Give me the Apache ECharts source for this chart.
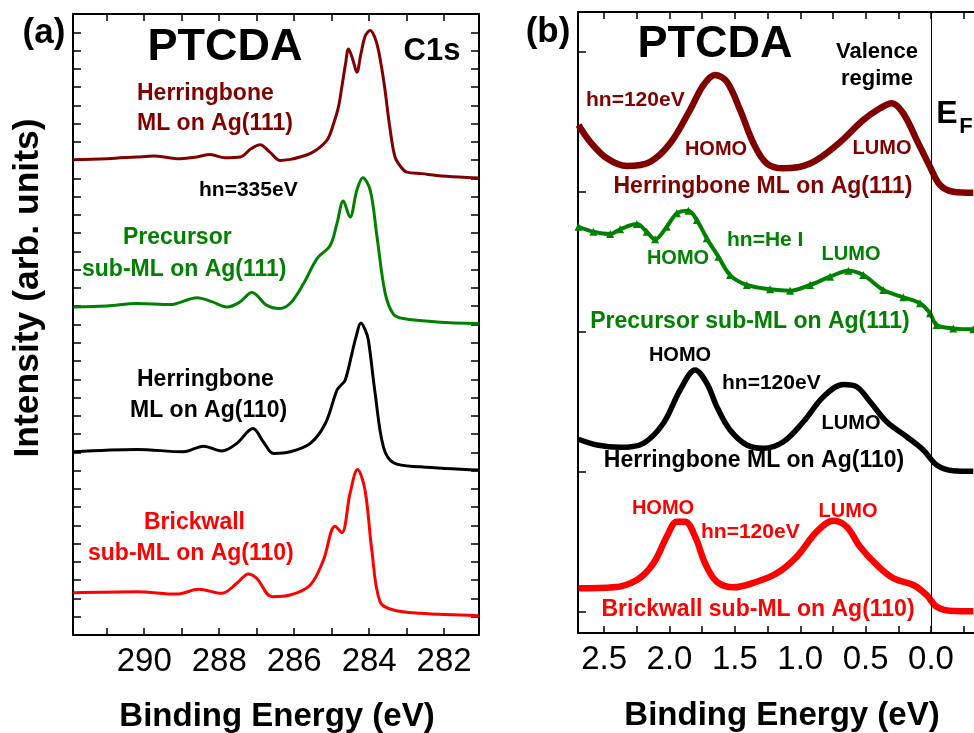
<!DOCTYPE html>
<html><head><meta charset="utf-8">
<script src="https://cdn.jsdelivr.net/npm/echarts@6/dist/echarts.min.js"></script>
<style>html,body{margin:0;padding:0;background:#fff;}#c{width:974px;height:733px;}</style>
</head><body><div id="c"></div>
<script>
// ---------- Panel (a): C1s core level (binding energy, eV / intensity arb. units) ----------
const aHB111_E = [291.9, 291.0, 290.2, 289.75, 289.3, 289.04, 288.6, 288.24, 287.85, 287.44, 287.15, 286.91, 286.65, 286.37, 286.1, 285.84, 285.55, 285.31, 285.1, 284.95, 284.82, 284.73, 284.63, 284.55, 284.43, 284.33, 284.22, 284.1, 283.97, 283.85, 283.75, 283.6, 283.45, 283.31, 283.15, 283.0, 282.6, 282.2, 281.6, 281.08];
const aHB111_Y = [26.02, 26.08, 26.17, 26.22, 26.12, 26.08, 26.17, 26.31, 26.13, 26.17, 26.62, 26.84, 26.44, 25.98, 26.04, 26.17, 26.38, 26.71, 27.17, 27.99, 28.90, 29.99, 31.27, 32.09, 31.46, 30.81, 31.82, 32.82, 33.10, 32.73, 32.0, 30.18, 27.81, 26.17, 25.62, 25.34, 25.26, 25.16, 25.07, 25.02];

const aPre111_E = [291.89, 291.0, 290.19, 289.31, 288.59, 288.2, 287.79, 287.45, 287.13, 286.73, 286.42, 286.11, 285.75, 285.39, 285.04, 284.86, 284.69, 284.51, 284.33, 284.17, 283.97, 283.79, 283.57, 283.35, 283.09, 282.19, 281.08];
const aPre111_Y = [17.96, 18.01, 18.15, 18.09, 18.47, 18.25, 17.96, 18.23, 18.75, 18.05, 17.87, 18.15, 19.24, 20.61, 21.33, 22.52, 23.76, 22.88, 24.34, 25.04, 24.34, 21.79, 18.69, 17.56, 17.33, 17.14, 17.05];

const aHB110_E = [291.89, 290.19, 288.95, 288.42, 287.93, 287.53, 287.10, 286.82, 286.55, 286.11, 285.57, 285.17, 284.86, 284.75, 284.64, 284.46, 284.35, 284.22, 284.1, 284.02, 283.84, 283.62, 283.35, 282.64, 281.08];
const aHB110_Y = [10.03, 10.16, 10.03, 10.34, 10.08, 10.49, 11.31, 10.57, 9.94, 10.03, 10.49, 11.58, 13.40, 13.68, 13.95, 15.41, 16.32, 17.08, 16.68, 16.14, 13.22, 10.30, 9.43, 9.21, 9.03];

const aBW110_E = [291.89, 290.19, 289.13, 288.55, 287.93, 287.53, 287.22, 287.0, 286.59, 286.11, 285.57, 285.22, 284.91, 284.73, 284.51, 284.31, 284.11, 283.93, 283.71, 283.35, 282.64, 281.08];
const aBW110_Y = [2.31, 2.37, 2.24, 2.50, 2.28, 2.83, 3.34, 3.10, 2.10, 2.19, 2.74, 4.10, 5.96, 5.60, 7.75, 9.06, 7.93, 4.65, 1.82, 1.37, 1.19, 1.06];

// ---------- Panel (b): valence regime ----------
const bHB111_E = [2.696, 2.607, 2.479, 2.326, 2.148, 1.995, 1.843, 1.741, 1.651, 1.562, 1.46, 1.358, 1.256, 1.129, 0.925, 0.721, 0.518, 0.39, 0.30, 0.212, 0.109, 0.008, -0.069, -0.17, -0.323];
const bHB111_Y = [3.479, 3.359, 3.241, 3.186, 3.216, 3.348, 3.586, 3.764, 3.836, 3.788, 3.586, 3.348, 3.204, 3.169, 3.204, 3.336, 3.514, 3.598, 3.634, 3.562, 3.371, 3.181, 3.05, 3.002, 2.995];

const bPre111_E = [2.696, 2.582, 2.454, 2.378, 2.25, 2.174, 2.11, 2.021, 1.944, 1.856, 1.791, 1.715, 1.626, 1.537, 1.409, 1.231, 1.078, 0.925, 0.772, 0.632, 0.518, 0.365, 0.212, 0.084, 0.008, -0.043, -0.17, -0.323];
const bPre111_Y = [2.752, 2.716, 2.70, 2.734, 2.771, 2.716, 2.662, 2.752, 2.848, 2.866, 2.80, 2.669, 2.538, 2.407, 2.336, 2.305, 2.295, 2.336, 2.395, 2.438, 2.407, 2.30, 2.248, 2.205, 2.134, 2.05, 2.026, 2.019];

const bHB110_E = [2.696, 2.556, 2.378, 2.20, 2.047, 1.919, 1.804, 1.715, 1.638, 1.537, 1.409, 1.282, 1.129, 0.976, 0.823, 0.670, 0.568, 0.466, 0.339, 0.186, 0.059, -0.043, -0.17, -0.323];
const bHB110_Y = [1.234, 1.193, 1.176, 1.205, 1.348, 1.586, 1.729, 1.634, 1.466, 1.30, 1.193, 1.169, 1.216, 1.359, 1.538, 1.626, 1.609, 1.502, 1.359, 1.252, 1.157, 1.05, 1.009, 1.005];

const bBW110_E = [2.696, 2.429, 2.25, 2.123, 2.021, 1.944, 1.881, 1.804, 1.728, 1.638, 1.511, 1.333, 1.18, 1.027, 0.874, 0.747, 0.645, 0.543, 0.415, 0.288, 0.135, 0.033, -0.043, -0.17, -0.323];
const bBW110_Y = [0.169, 0.176, 0.229, 0.348, 0.538, 0.645, 0.645, 0.538, 0.348, 0.216, 0.176, 0.216, 0.276, 0.395, 0.574, 0.652, 0.609, 0.466, 0.336, 0.241, 0.193, 0.121, 0.038, 0.007, 0.005];

// ---------- Tick labels ----------
const aTickLabels = [282, 284, 286, 288, 290];
const aTicks = [282, 283, 284, 285, 286, 287, 288, 289, 290, 291];
const bTickLabels = [0, 0.5, 1.0, 1.5, 2.0, 2.5];
const bTicks = [-0.25, 0, 0.25, 0.5, 0.75, 1.0, 1.25, 1.5, 1.75, 2.0, 2.25, 2.5];
const bYTicks = [0, 1, 2, 3, 4];

const FF = "'Liberation Sans', Arial, Helvetica, sans-serif";
const MAROON = '#800000', GREEN = '#008000', BLACK = '#000000', RED = '#ff0000';

function pairs(E, Y) { return E.map((e, i) => [e, Y[i]]); }
function T(text, x, y, size, color, align, rot) {
  return { type: 'text', x: x, y: y, rotation: rot || 0, silent: true,
    style: { text: text, fill: color, font: 'bold ' + size + 'px ' + FF, align: align || 'center', verticalAlign: 'middle' } };
}

const axLine = { show: true, onZero: false, lineStyle: { color: '#000', width: 2 } };

const chart = echarts.init(document.getElementById('c'));
chart.setOption({
  animation: false,
  backgroundColor: '#fff',
  grid: [
    { left: 73, top: 14, width: 406, height: 621 },
    { left: 578, top: 12, right: 0, height: 621 }
  ],
  xAxis: [
    { gridIndex: 0, type: 'value', inverse: true, min: 281.07, max: 291.9, position: 'bottom',
      axisLine: axLine, splitLine: { show: false },
      axisTick: { inside: true, length: 7, customValues: aTicks, lineStyle: { width: 1.5, color: '#000' } },
      axisLabel: { customValues: aTickLabels, fontSize: 33, color: '#000', fontFamily: FF, margin: 10 } },
    { gridIndex: 0, type: 'value', inverse: true, min: 281.07, max: 291.9, position: 'top',
      axisLine: axLine, splitLine: { show: false },
      axisTick: { inside: true, length: 7, customValues: aTicks, lineStyle: { width: 1.5, color: '#000' } },
      axisLabel: { show: false } },
    { gridIndex: 1, type: 'value', inverse: true, min: -0.3287, max: 2.7, position: 'bottom',
      axisLine: axLine, splitLine: { show: false },
      axisTick: { inside: true, length: 7, customValues: bTicks, lineStyle: { width: 1.5, color: '#000' } },
      axisLabel: { customValues: bTickLabels, fontSize: 33, color: '#000', fontFamily: FF, margin: 10,
        formatter: v => Number(v).toFixed(1) } },
    { gridIndex: 1, type: 'value', inverse: true, min: -0.3287, max: 2.7, position: 'top',
      axisLine: axLine, splitLine: { show: false },
      axisTick: { inside: true, length: 7, customValues: bTicks, lineStyle: { width: 1.5, color: '#000' } },
      axisLabel: { show: false } }
  ],
  yAxis: [
    { gridIndex: 0, type: 'value', min: 0, max: 34, interval: 1, position: 'left',
      axisLine: axLine, splitLine: { show: false },
      axisTick: { inside: true, length: 8, lineStyle: { width: 1.5, color: '#000' } },
      axisLabel: { show: false } },
    { gridIndex: 0, type: 'value', min: 0, max: 34, interval: 1, position: 'right',
      axisLine: axLine, splitLine: { show: false },
      axisTick: { inside: true, length: 8, lineStyle: { width: 1.5, color: '#000' } },
      axisLabel: { show: false } },
    { gridIndex: 1, type: 'value', min: -0.15, max: 4.286, position: 'left',
      axisLine: axLine, splitLine: { show: false },
      axisTick: { inside: true, length: 8, customValues: bYTicks, lineStyle: { width: 1.5, color: '#000' } },
      axisLabel: { show: false } }
  ],
  series: [
    { type: 'line', xAxisIndex: 0, yAxisIndex: 0, data: pairs(aHB111_E, aHB111_Y), showSymbol: false, smooth: 0.35, lineStyle: { color: MAROON, width: 3 } },
    { type: 'line', xAxisIndex: 0, yAxisIndex: 0, data: pairs(aPre111_E, aPre111_Y), showSymbol: false, smooth: 0.35, lineStyle: { color: GREEN, width: 3 } },
    { type: 'line', xAxisIndex: 0, yAxisIndex: 0, data: pairs(aHB110_E, aHB110_Y), showSymbol: false, smooth: 0.35, lineStyle: { color: BLACK, width: 3 } },
    { type: 'line', xAxisIndex: 0, yAxisIndex: 0, data: pairs(aBW110_E, aBW110_Y), showSymbol: false, smooth: 0.35, lineStyle: { color: RED, width: 3 } },

    { type: 'line', xAxisIndex: 2, yAxisIndex: 2, data: pairs(bHB111_E, bHB111_Y), showSymbol: false, smooth: 0.35, lineStyle: { color: MAROON, width: 6.5 },
      markLine: { silent: true, symbol: ['none', 'none'], label: { show: false }, lineStyle: { color: '#000', width: 1, type: 'solid' }, data: [{ xAxis: 0 }] } },
    { type: 'line', xAxisIndex: 2, yAxisIndex: 2, data: pairs(bPre111_E, bPre111_Y), showSymbol: true, symbol: 'triangle', symbolSize: 8, smooth: 0.35,
      itemStyle: { color: GREEN }, lineStyle: { color: GREEN, width: 4 } },
    { type: 'line', xAxisIndex: 2, yAxisIndex: 2, data: pairs(bHB110_E, bHB110_Y), showSymbol: false, smooth: 0.35, lineStyle: { color: BLACK, width: 5.5 } },
    { type: 'line', xAxisIndex: 2, yAxisIndex: 2, data: pairs(bBW110_E, bBW110_Y), showSymbol: false, smooth: 0.35, lineStyle: { color: RED, width: 6.5 } }
  ],
  graphic: [
    // panel (a)
    T('(a)', 44, 33, 35, BLACK),
    T('PTCDA', 225, 48, 45, BLACK),
    T('C1s', 432, 51, 31, BLACK),
    T('Herringbone', 137, 94, 23, MAROON, 'left'),
    T('ML on Ag(111)', 137, 124, 23, MAROON, 'left'),
    T('hn=335eV', 199, 190, 21, BLACK, 'left'),
    T('Precursor', 123, 238, 23, GREEN, 'left'),
    T('sub-ML on Ag(111)', 82, 270, 23, GREEN, 'left'),
    T('Herringbone', 137, 380, 23, BLACK, 'left'),
    T('ML on Ag(110)', 130, 411, 23, BLACK, 'left'),
    T('Brickwall', 144, 523, 23, RED, 'left'),
    T('sub-ML on Ag(110)', 88, 554, 23, RED, 'left'),
    T('Intensity (arb. units)', 28, 288, 35.5, BLACK, 'center', Math.PI / 2),
    T('Binding Energy (eV)', 277, 717, 33, BLACK),
    // panel (b)
    T('(b)', 548, 32, 35, BLACK),
    T('PTCDA', 715, 45, 45, BLACK),
    T('Valence', 877, 52, 22, BLACK),
    T('regime', 877, 79, 22, BLACK),
    T('E', 947, 114, 32, BLACK),
    T('F', 966, 127, 22, BLACK),
    T('hn=120eV', 586, 100, 21, MAROON, 'left'),
    T('HOMO', 716, 149, 20, MAROON),
    T('LUMO', 882, 148, 20, MAROON),
    T('Herringbone ML on Ag(111)', 763, 187, 23, MAROON),
    T('HOMO', 678, 258, 20, GREEN),
    T('hn=He I', 727, 240, 21, GREEN, 'left'),
    T('LUMO', 851, 254, 20, GREEN),
    T('Precursor sub-ML on Ag(111)', 750, 322, 23, GREEN),
    T('HOMO', 680, 355, 20, BLACK),
    T('hn=120eV', 722, 383, 21, BLACK, 'left'),
    T('LUMO', 851, 423, 20, BLACK),
    T('Herringbone ML on Ag(110)', 754, 461, 23, BLACK),
    T('HOMO', 663, 508, 20, RED),
    T('hn=120eV', 701, 532, 21, RED, 'left'),
    T('LUMO', 848, 511, 20, RED),
    T('Brickwall sub-ML on Ag(110)', 758, 610, 23, RED),
    T('Binding Energy (eV)', 782, 716, 33, BLACK)
  ]
});
</script>
</body></html>
